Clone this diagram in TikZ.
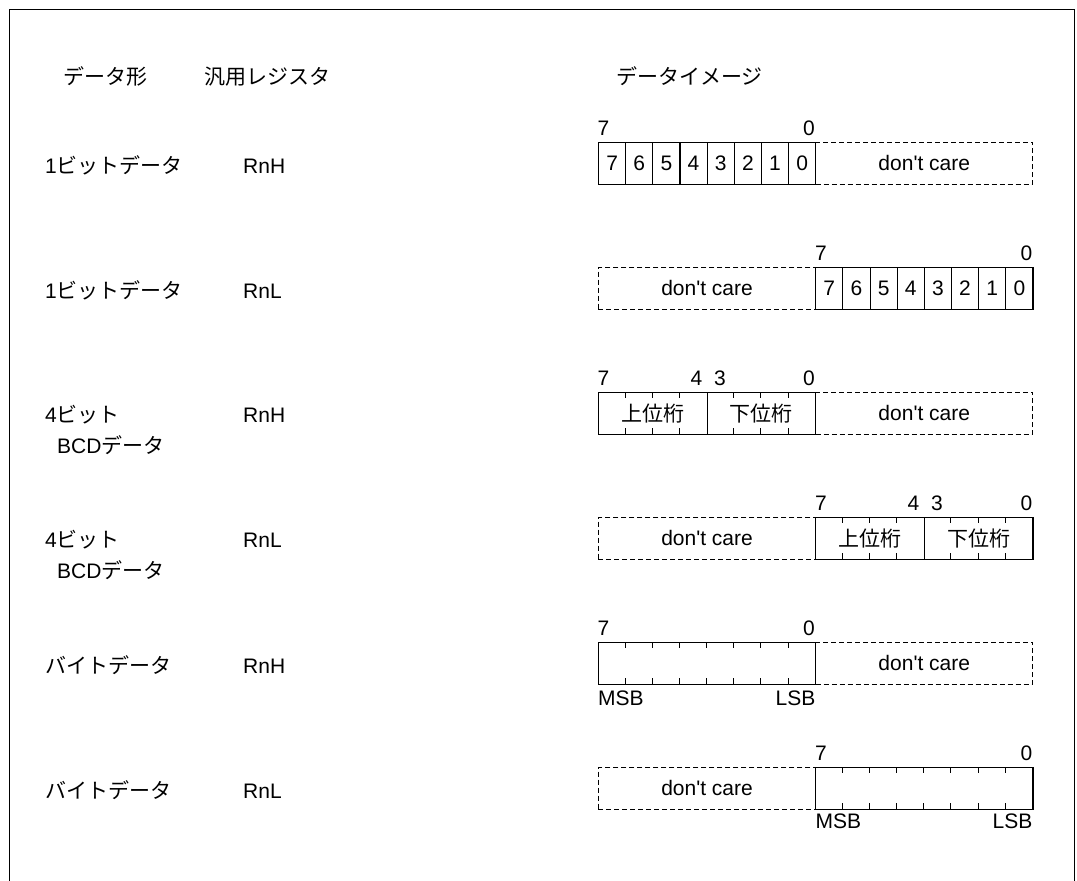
\documentclass[tikz,border=0pt]{standalone}
\usepackage{fontspec}
\setmainfont{Liberation Sans}[Ligatures=TeXOff]
\newfontfamily\jp{Noto Sans CJK JP}
\begin{document}
\begin{tikzpicture}[x=1pt,y=-1pt,
  txt/.style={font=\fontsize{21}{25}\selectfont, inner sep=0pt},
  cellbox/.style={draw, line width=1.1pt, minimum width=27.15pt, minimum height=41.5pt, inner sep=0pt, anchor=north west, font=\fontsize{21}{25}\selectfont},
  nibbox/.style={draw, line width=1.1pt, minimum width=108.6pt, minimum height=41.5pt, inner sep=0pt, anchor=north west, font=\fontsize{21}{25}\selectfont\jp},
  bytebox/.style={draw, line width=1.1pt, minimum width=217.2pt, minimum height=41.5pt, inner sep=0pt, anchor=north west},
  dcbox/.style={draw, dash pattern=on 5pt off 3pt, line width=0.9pt, minimum width=217.2pt, minimum height=41.5pt, inner sep=0pt, anchor=north west, font=\fontsize{21}{25}\selectfont},
  tickline/.style={line width=1pt}
]
\useasboundingbox (0,0) rectangle (1077,881);
% frame
\draw[line width=1pt] (9.5,881) -- (9.5,9.5) -- (1074,9.5) -- (1074,881);

% headers
\node[txt, anchor=base west] (h1) at (63,84) {\jp データ形};
\node[txt, anchor=base west] (h2) at (204,84) {\jp 汎用レジスタ};
\node[txt, anchor=base west] (h3) at (616,84) {\jp データイメージ};

% left labels
\node[txt, anchor=base west] (l1) at (45,173) {1{\jp ビットデータ}};
\node[txt, anchor=base west] (g1) at (243,173) {RnH};
\node[txt, anchor=base west] (l2) at (45,298) {1{\jp ビットデータ}};
\node[txt, anchor=base west] (g2) at (243,298) {RnL};
\node[txt, anchor=base west] (l3) at (45,422) {4{\jp ビット}};
\node[txt, anchor=base west] (l3b) at (57,453) {BCD{\jp データ}};
\node[txt, anchor=base west] (g3) at (243,422) {RnH};
\node[txt, anchor=base west] (l4) at (45,547) {4{\jp ビット}};
\node[txt, anchor=base west] (l4b) at (57,578) {BCD{\jp データ}};
\node[txt, anchor=base west] (g4) at (243,547) {RnL};
\node[txt, anchor=base west] (l5) at (45,673) {\jp バイトデータ};
\node[txt, anchor=base west] (g5) at (243,673) {RnH};
\node[txt, anchor=base west] (l6) at (45,798) {\jp バイトデータ};
\node[txt, anchor=base west] (g6) at (243,798) {RnL};

% row 1
\foreach \i [evaluate=\i as \d using int(7-\i)] in {0,...,7}
  \node[cellbox] (ra\d) at ({598+\i*27.15},142) {\d};
\node[dcbox] (rad) at (815.2,142) {don't care};
\node[txt, anchor=base west] (ra7t) at (597.5,135) {7};
\node[txt, anchor=base east] (ra0t) at (815,135) {0};

% row 2
\node[dcbox] (rbd) at (598,267) {don't care};
\foreach \i [evaluate=\i as \d using int(7-\i)] in {0,...,7}
  \node[cellbox] (rb\d) at ({815.2+\i*27.15},267) {\d};
\node[txt, anchor=base west] (rb7t) at (815,260) {7};
\node[txt, anchor=base east] (rb0t) at (1032.5,260) {0};

% row 3
\node[nibbox] (rch) at (598,392) {上位桁};
\node[nibbox] (rcl) at (706.6,392) {下位桁};
\node[dcbox] (rcd) at (815.2,392) {don't care};
\foreach \k in {1,2,3} {
  \draw[tickline] ({598+\k*27.15},392) -- ++(0,6);
  \draw[tickline] ({598+\k*27.15},433.5) -- ++(0,-6);
  \draw[tickline] ({706.6+\k*27.15},392) -- ++(0,6);
  \draw[tickline] ({706.6+\k*27.15},433.5) -- ++(0,-6);
}
\node[txt, anchor=base west] (rc7t) at (597.5,385) {7};
\node[txt, anchor=base east] (rc4t) at (702.5,385) {4};
\node[txt, anchor=base west] (rc3t) at (714,385) {3};
\node[txt, anchor=base east] (rc0t) at (815,385) {0};

% row 4
\node[dcbox] (rdd) at (598,517) {don't care};
\node[nibbox] (rdh) at (815.2,517) {上位桁};
\node[nibbox] (rdl) at (923.8,517) {下位桁};
\foreach \k in {1,2,3} {
  \draw[tickline] ({815.2+\k*27.15},517) -- ++(0,6);
  \draw[tickline] ({815.2+\k*27.15},558.5) -- ++(0,-6);
  \draw[tickline] ({923.8+\k*27.15},517) -- ++(0,6);
  \draw[tickline] ({923.8+\k*27.15},558.5) -- ++(0,-6);
}
\node[txt, anchor=base west] (rd7t) at (815,510) {7};
\node[txt, anchor=base east] (rd4t) at (919.5,510) {4};
\node[txt, anchor=base west] (rd3t) at (931,510) {3};
\node[txt, anchor=base east] (rd0t) at (1032.5,510) {0};

% row 5
\node[bytebox] (re) at (598,642) {};
\node[dcbox] (red) at (815.2,642) {don't care};
\foreach \k in {1,...,7} {
  \draw[tickline] ({598+\k*27.15},642) -- ++(0,6);
  \draw[tickline] ({598+\k*27.15},683.5) -- ++(0,-6);
}
\node[txt, anchor=base west] (re7t) at (597.5,635) {7};
\node[txt, anchor=base east] (re0t) at (815,635) {0};
\node[txt, anchor=base west] (remsb) at (598,705) {MSB};
\node[txt, anchor=base east] (relsb) at (815.5,705) {LSB};

% row 6
\node[dcbox] (rfd) at (598,767) {don't care};
\node[bytebox] (rf) at (815.2,767) {};
\foreach \k in {1,...,7} {
  \draw[tickline] ({815.2+\k*27.15},767) -- ++(0,6);
  \draw[tickline] ({815.2+\k*27.15},808.5) -- ++(0,-6);
}
\node[txt, anchor=base west] (rf7t) at (815,760) {7};
\node[txt, anchor=base east] (rf0t) at (1032.5,760) {0};
\node[txt, anchor=base west] (rfmsb) at (815.5,828) {MSB};
\node[txt, anchor=base east] (rflsb) at (1032.5,828) {LSB};
\end{tikzpicture}
\end{document}
